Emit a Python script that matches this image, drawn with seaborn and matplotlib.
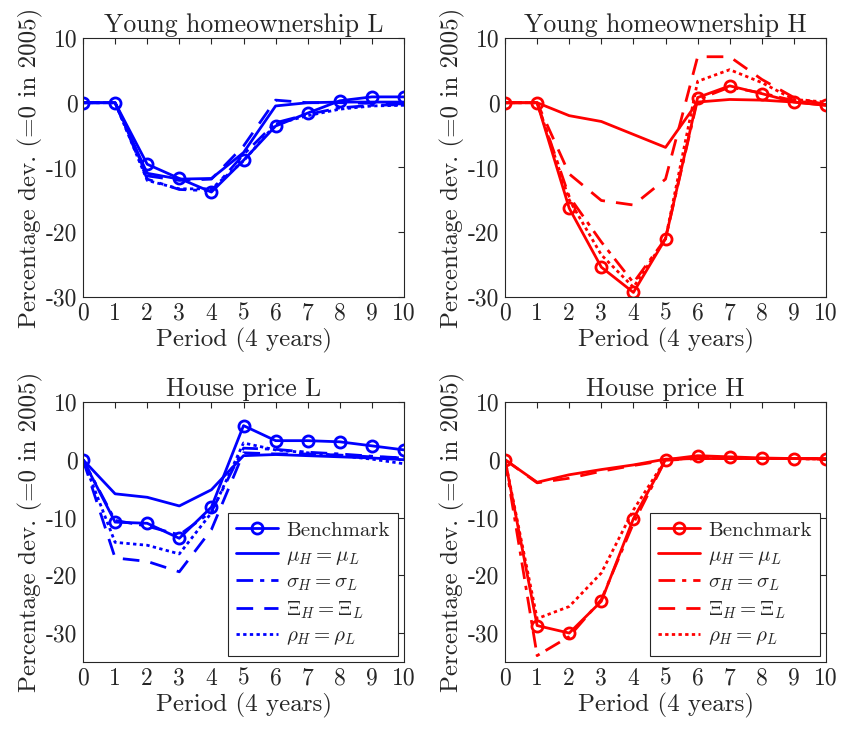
import numpy as np
import pandas as pd
import seaborn as sns
import matplotlib.pyplot as plt

periods = list(range(11))

# Young homeownership, low-price region
yh_L_bench = [0, 0, -9.5, -11.7, -13.8, -8.9, -3.6, -1.6, 0.3, 0.9, 0.9]
yh_L_mu    = [0, 0, -10.9, -11.8, -11.7, -7.7, -0.5, 0.0, 0.1, 0.1, 0.1]
yh_L_sigma = [0, 0, -11.8, -13.4, -13.6, -8.0, -3.1, -1.8, -0.8, -0.4, -0.3]
yh_L_xi    = [0, 0, -11.3, -12.0, -11.8, -6.7, 0.4, 0.0, 0.0, -0.1, -0.2]
yh_L_rho   = [0, 0, -12.0, -13.3, -13.3, -9.0, -3.3, -2.0, -1.0, -0.5, -0.4]

# Young homeownership, high-price region
yh_H_bench = [0, 0, -16.3, -25.4, -29.3, -21.0, 0.8, 2.6, 1.4, 0.1, -0.4]
yh_H_mu    = [0, 0, -2.0, -2.9, -4.9, -6.9, 0.1, 0.5, 0.4, 0.1, -0.4]
yh_H_sigma = [0, 0, -14.5, -21.5, -27.8, -21.0, 0.5, 2.4, 1.5, 0.3, -0.3]
yh_H_xi    = [0, 0, -11.0, -15.1, -15.8, -11.8, 7.1, 7.1, 3.6, 0.8, -0.3]
yh_H_rho   = [0, 0, -15.0, -23.5, -28.5, -21.0, 3.3, 5.1, 3.1, 0.5, 0.1]

# House price, low-price region
hp_L_bench = [0, -10.8, -11.0, -13.6, -8.2, 5.9, 3.3, 3.3, 3.1, 2.4, 1.7]
hp_L_mu    = [0, -5.9, -6.5, -8.0, -5.2, 0.7, 0.9, 0.7, 0.5, 0.3, 0.0]
hp_L_sigma = [0, -10.5, -11.5, -13.0, -9.0, 2.0, 1.8, 1.3, 1.0, 0.6, 0.3]
hp_L_xi    = [0, -17.0, -17.6, -19.4, -12.1, 1.2, 1.0, 1.0, 0.8, 0.5, 0.3]
hp_L_rho   = [0, -14.3, -14.8, -16.3, -9.2, 2.9, 1.7, 1.2, 0.7, 0.1, -0.7]

# House price, high-price region
hp_H_bench = [0, -28.7, -30.0, -24.5, -10.2, 0.0, 0.7, 0.5, 0.3, 0.2, 0.1]
hp_H_mu    = [0, -3.9, -2.6, -1.7, -0.9, 0.1, 0.2, 0.2, 0.2, 0.2, 0.2]
hp_H_sigma = [0, -33.9, -30.6, -24.2, -11.0, 0.0, 0.3, 0.3, 0.2, 0.2, 0.1]
hp_H_xi    = [0, -4.0, -3.2, -2.0, -1.0, -0.1, 0.2, 0.2, 0.2, 0.2, 0.2]
hp_H_rho   = [0, -27.5, -25.4, -19.6, -8.7, 0.0, 0.3, 0.3, 0.2, 0.2, 0.1]

labels = ['Benchmark', r'$\mu_H = \mu_L$', r'$\sigma_H = \sigma_L$',
          r'$\Xi_H = \Xi_L$', r'$\rho_H = \rho_L$']

sns.set_style('white')
plt.rcParams['font.family'] = 'serif'
plt.rcParams['font.serif'] = ['cmr10', 'DejaVu Serif']
plt.rcParams['mathtext.fontset'] = 'cm'
plt.rcParams['axes.unicode_minus'] = False

# (linestyle, marker) per series
styles = [
    ('-', 'o'),
    ('-', None),
    ((0, (6, 2.5, 1.5, 2.5)), None),
    ((0, (6, 4)), None),
    ((0, (1.2, 1.2)), None),
]

panels = [
    ('Young homeownership L', [yh_L_bench, yh_L_mu, yh_L_sigma, yh_L_xi, yh_L_rho], 'blue', (-30, 10), False),
    ('Young homeownership H', [yh_H_bench, yh_H_mu, yh_H_sigma, yh_H_xi, yh_H_rho], 'red', (-30, 10), False),
    ('House price L', [hp_L_bench, hp_L_mu, hp_L_sigma, hp_L_xi, hp_L_rho], 'blue', (-35, 10), True),
    ('House price H', [hp_H_bench, hp_H_mu, hp_H_sigma, hp_H_xi, hp_H_rho], 'red', (-35, 10), True),
]

rects = [
    [0.0987, 0.5932, 0.3817, 0.3548],
    [0.6005, 0.5932, 0.3817, 0.3548],
    [0.0987, 0.0932, 0.3817, 0.3562],
    [0.6005, 0.0932, 0.3817, 0.3562],
]

fig = plt.figure(figsize=(8.41, 7.30), dpi=100)

for rect, (title, series, color, ylim, show_legend) in zip(rects, panels):
    ax = fig.add_axes(rect)
    for vals, lab, (ls, mk) in zip(series, labels, styles):
        df = pd.DataFrame({'period': periods, 'value': vals})
        sns.lineplot(data=df, x='period', y='value', ax=ax, color=color,
                     linewidth=2, label=lab)
        line = ax.lines[-1]
        line.set_linestyle(ls)
        if mk:
            line.set_marker(mk)
            line.set_markersize(8)
            line.set_markerfacecolor('none')
            line.set_markeredgecolor(color)
            line.set_markeredgewidth(2)
    ax.set_xlim(0, 10)
    ax.set_ylim(*ylim)
    ax.set_xticks(periods)
    ax.set_xticklabels([str(p) for p in periods])
    yt = [-30, -20, -10, 0, 10]
    ax.set_yticks(yt)
    ax.set_yticklabels([str(v) for v in yt])
    ax.tick_params(direction='in', top=True, right=True, length=4,
                   labelsize=17, colors='#262626', labelcolor='#262626', pad=4)
    for sp in ax.spines.values():
        sp.set_visible(True)
        sp.set_color('#262626')
        sp.set_linewidth(0.8)
    ax.set_title(title, fontsize=18.5, pad=4)
    ax.set_xlabel('Period (4 years)', fontsize=18, labelpad=2)
    ax.set_ylabel('Percentage dev. (=0 in 2005)', fontsize=18, labelpad=2)
    ax.get_legend().remove()
    if show_legend:
        leg = ax.legend(ax.lines, labels, loc='lower right', fontsize=15,
                        fancybox=False, framealpha=1, edgecolor='#262626',
                        handlelength=2.0, borderaxespad=0.3, labelspacing=0.3,
                        handletextpad=0.4)
        leg.get_frame().set_linewidth(0.8)

plt.savefig('out.png', dpi=100)
